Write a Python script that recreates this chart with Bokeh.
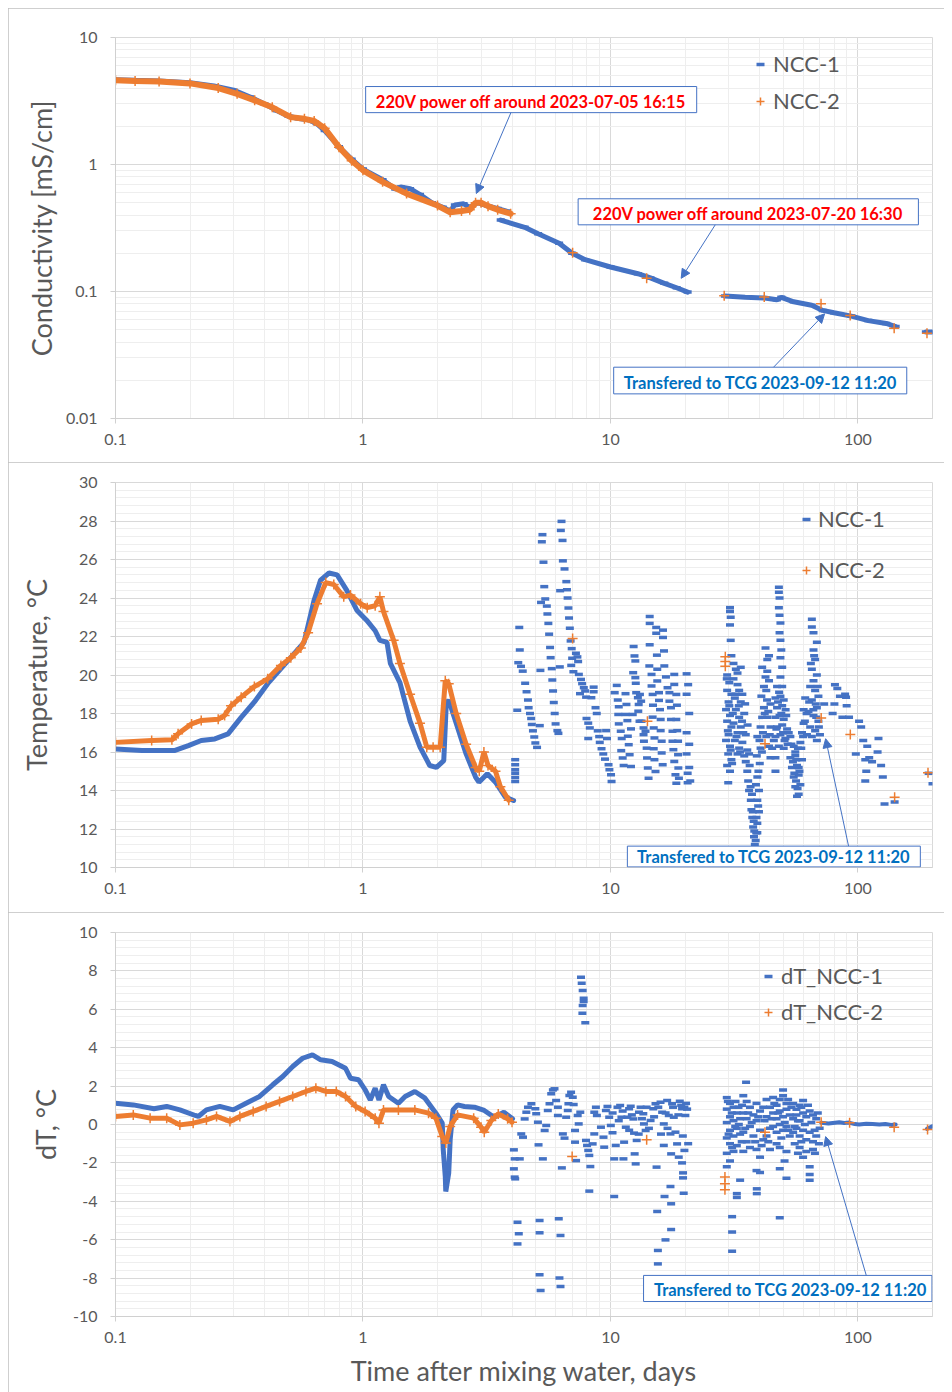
from bokeh.plotting import figure
from bokeh.layouts import column
from bokeh.models import (Arrow, BoxAnnotation, CustomJSTickFormatter, FixedTicker,
                          Label, Legend, LegendItem, NormalHead, Range1d)
from bokeh.embed import file_html
from bokeh.resources import INLINE

BLUE = "#4472c4"
ORANGE = "#ed7d31"
GREY = "#595959"
FONT = "Lato"

# ---------------- conductivity [mS/cm] vs days ----------------
cond_ncc1_segments = [
    [(0.1, 4.65), (0.12, 4.6), (0.15, 4.55), (0.2, 4.4), (0.25, 4.15), (0.3, 3.85),
     (0.35, 3.4), (0.4, 3.0), (0.45, 2.65), (0.5, 2.4), (0.55, 2.3), (0.6, 2.25),
     (0.65, 2.1), (0.7, 1.85), (0.8, 1.38), (0.9, 1.1), (1.0, 0.92), (1.2, 0.76),
     (1.35, 0.64), (1.42, 0.665), (1.55, 0.645), (1.7, 0.58), (1.9, 0.5), (2.1, 0.46),
     (2.25, 0.43), (2.35, 0.48), (2.55, 0.49), (2.7, 0.46), (2.9, 0.5), (3.1, 0.48),
     (3.5, 0.45), (3.8, 0.43)],
    [(3.6, 0.365), (4.5, 0.32), (5.1, 0.285), (6.2, 0.24), (7.0, 0.2), (7.9, 0.178),
     (10.0, 0.156), (12.9, 0.138), (14.5, 0.128), (16.5, 0.116), (18.5, 0.107), (20.5, 0.099)],
    [(29, 0.092), (35, 0.09), (42, 0.089), (47, 0.086), (49, 0.09), (55, 0.083),
     (65, 0.078), (72, 0.071), (80, 0.068), (94, 0.064), (110, 0.059), (130, 0.056), (142, 0.053)],
    [(188, 0.048), (205, 0.048)],
]
cond_ncc2_dense = [
    (0.1, 4.6), (0.12, 4.55), (0.15, 4.5), (0.2, 4.35), (0.26, 4.0), (0.31, 3.6),
    (0.365, 3.2), (0.43, 2.82), (0.51, 2.36), (0.58, 2.29), (0.635, 2.2), (0.7, 1.93),
    (0.8, 1.37), (0.9, 1.07), (1.0, 0.9), (1.2, 0.73), (1.5, 0.59), (2.0, 0.475),
    (2.25, 0.42), (2.5, 0.43), (2.7, 0.44), (2.85, 0.5), (3.0, 0.5), (3.2, 0.47),
    (3.5, 0.44), (3.95, 0.41)]
cond_ncc2_sparse = [(7.03, 0.202), (14.0, 0.127), (28.8, 0.0925), (41.8, 0.0905),
                    (70.9, 0.080), (93, 0.0647), (140, 0.0514), (190, 0.047)]

# ---------------- temperature [C] vs days ----------------
temp_ncc1_line = [
    (0.1, 16.16), (0.128, 16.08), (0.174, 16.08), (0.197, 16.33), (0.222, 16.6),
    (0.252, 16.68), (0.285, 16.94), (0.322, 17.8), (0.364, 18.6), (0.412, 19.55),
    (0.466, 20.33), (0.526, 21.1), (0.578, 21.7), (0.635, 23.9), (0.674, 24.93),
    (0.729, 25.3), (0.786, 25.2), (0.86, 24.4), (0.944, 23.37), (1.034, 22.85),
    (1.12, 22.3), (1.17, 21.8), (1.25, 21.7), (1.29, 20.6), (1.41, 19.6), (1.55, 17.6),
    (1.7, 16.25), (1.86, 15.3), (1.98, 15.2), (2.12, 15.55), (2.17, 18.5), (2.22, 18.7),
    (2.38, 17.5), (2.61, 15.9), (2.85, 14.7), (2.94, 14.43), (3.18, 14.87), (3.43, 14.43),
    (3.76, 13.65), (4.06, 13.48)]
temp_ncc2_line = [
    (0.1, 16.5), (0.14, 16.6), (0.169, 16.63), (0.179, 16.95), (0.203, 17.46),
    (0.222, 17.64), (0.26, 17.7), (0.276, 17.9), (0.293, 18.4), (0.322, 18.85),
    (0.364, 19.4), (0.412, 19.8), (0.466, 20.5), (0.511, 20.9), (0.561, 21.4), (0.6, 22.2),
    (0.652, 23.7), (0.707, 24.8), (0.762, 24.7), (0.836, 24.06), (0.89, 24.15),
    (0.978, 23.7), (1.04, 23.5), (1.12, 23.6), (1.17, 24.06), (1.21, 23.3), (1.33, 21.8),
    (1.41, 20.6), (1.55, 19.0), (1.7, 17.5), (1.81, 16.25), (1.92, 16.25), (2.05, 16.25),
    (2.15, 19.7), (2.22, 19.55), (2.38, 18.0), (2.61, 16.4), (2.85, 15.2), (2.95, 15.0),
    (3.08, 16.0), (3.2, 15.3), (3.43, 15.0), (3.59, 14.2), (3.88, 13.5)]
temp_ncc2_sparse = [(7.03, 21.9), (14.1, 17.6), (29.1, 20.95), (29.1, 20.7), (29.1, 20.45),
                    (42.1, 16.43), (71, 17.76), (93.1, 16.91), (140.6, 13.65), (191.8, 14.92)]
temp_ncc1_scatter_a = [
    (4.12, 15.6), (4.12, 15.34), (4.12, 15.08), (4.12, 14.9), (4.12, 14.68), (4.12, 14.47),
    (4.28, 22.47), (4.3, 21.3), (4.24, 20.64), (4.35, 20.45), (4.42, 20.2), (4.2, 18.17),
    (4.52, 19.57), (4.58, 19.13), (4.64, 18.7), (4.67, 18.3), (4.73, 18.0), (4.78, 17.74),
    (4.81, 17.43), (4.86, 17.1), (4.92, 16.78), (4.97, 16.47), (5.05, 16.24), (5.18, 17.37),
    (5.21, 20.24), (5.31, 27.29), (5.28, 26.92), (5.36, 25.86), (5.4, 24.59), (5.45, 23.95),
    (5.24, 23.77), (5.53, 23.58), (5.56, 23.17), (5.61, 22.68), (5.65, 22.12), (5.7, 21.43),
    (5.73, 20.9), (5.79, 20.33), (5.82, 19.74), (5.86, 19.17), (5.9, 18.57), (5.95, 18.0),
    (6.0, 17.46), (6.1, 17.11), (6.16, 16.97), (6.26, 24.38), (6.24, 20.42),
    (6.34, 27.98), (6.3, 27.51), (6.4, 26.99), (6.42, 25.93), (6.52, 25.51), (6.63, 24.85),
    (6.67, 24.43), (6.71, 24.0), (6.76, 23.48), (6.8, 22.96), (6.85, 22.43), (6.9, 21.77),
    (6.97, 21.37), (7.0, 20.87), (6.94, 20.5), (7.25, 21.13), (7.35, 20.94), (7.4, 20.7),
    (7.08, 20.17), (7.45, 20.03), (7.6, 19.77), (7.68, 19.55), (7.8, 19.34), (7.53, 19.03),
    (7.9, 19.17), (7.97, 18.85), (8.37, 18.82), (8.55, 19.37), (8.55, 19.13), (8.7, 18.3),
    (8.8, 18.0), (8.0, 17.74), (8.13, 17.5), (8.25, 17.25), (8.13, 16.7), (8.88, 17.1),
    (9.0, 16.8), (9.05, 16.5), (9.2, 16.17), (9.35, 15.9), (9.5, 15.63), (9.6, 17.11),
    (9.68, 16.7), (9.82, 15.34), (9.9, 15.08), (10.05, 14.82), (10.1, 14.47),
    (10.4, 19.08), (10.6, 19.46), (10.7, 18.7), (10.8, 18.35), (10.75, 17.95), (10.8, 17.46),
    (11.0, 17.08), (11.1, 16.7), (11.05, 16.07), (11.2, 15.69), (11.3, 15.3), (11.5, 19.03),
    (11.6, 18.47), (11.5, 17.95), (11.7, 17.63), (11.75, 16.82), (11.85, 16.38),
    (11.95, 15.86), (12.1, 15.25), (12.1, 17.2), (12.3, 17.95), (12.35, 20.12),
    (12.4, 21.48), (12.5, 20.99), (12.6, 20.73), (12.6, 19.86), (12.65, 19.57), (12.7, 19.08),
    (12.9, 18.82), (13.0, 18.47), (12.95, 18.12), (13.1, 17.6), (13.15, 18.99), (13.3, 18.64),
    (13.35, 17.6), (13.6, 17.25), (13.6, 16.9), (13.65, 16.56), (13.85, 17.08), (14.0, 16.2),
    (14.05, 15.69), (14.15, 15.17), (14.25, 14.64), (14.4, 23.04), (14.4, 22.68),
    (14.4, 21.57), (14.35, 20.47), (14.65, 20.03), (14.65, 19.43), (14.8, 18.99),
    (14.85, 18.43), (14.8, 17.81), (14.95, 17.25), (15.05, 16.73), (14.95, 16.17),
    (15.05, 15.6), (15.2, 14.99), (15.3, 22.47), (15.3, 22.17), (15.4, 21.03), (15.45, 20.3),
    (15.45, 19.69), (15.7, 19.08), (15.7, 18.68), (15.85, 18.2), (15.95, 17.69),
    (15.95, 17.11), (16.1, 16.56), (16.1, 15.95), (16.25, 15.34), (16.3, 22.33),
    (16.3, 21.95), (16.45, 21.25), (16.5, 20.47), (16.75, 19.9), (17.0, 19.34), (17.3, 19.08),
    (17.3, 18.64), (17.55, 18.3), (17.55, 17.69), (17.8, 17.08), (17.8, 16.56),
    (17.95, 16.12), (18.1, 15.51), (18.3, 14.82), (18.45, 14.38), (18.1, 20.03),
    (18.1, 19.51), (18.45, 18.99), (18.55, 18.43), (18.45, 17.69), (18.6, 17.11),
    (18.75, 16.56), (18.75, 15.86), (18.8, 15.17), (18.9, 14.64), (20.3, 20.06), (20.6, 19.5),
    (20.3, 19.0), (20.8, 18.0), (20.3, 17.0), (20.8, 16.4), (20.3, 15.9), (20.8, 15.2),
    (20.5, 14.9), (21.0, 14.5), (20.5, 14.4)]
temp_ncc1_scatter_b = [
    (29.9, 14.4), (30.4, 23.5), (30.4, 23.3), (30.6, 23.0), (30.4, 22.6), (30.6, 21.8),
    (30.8, 21.0), (29.6, 20.0), (30.2, 19.6), (29.6, 19.2), (30.8, 19.0), (30.0, 18.6),
    (29.3, 18.2), (30.4, 17.9), (29.6, 17.6), (30.8, 17.3), (30.0, 16.9), (29.3, 16.6),
    (30.4, 16.3), (29.9, 15.9), (30.8, 15.6), (29.6, 15.3), (30.4, 15.0), (31.4, 20.6),
    (32.1, 20.3), (32.6, 20.1), (33.6, 20.4), (31.4, 19.8), (32.6, 19.5), (33.1, 19.2),
    (34.1, 19.0), (31.8, 18.8), (33.6, 18.6), (32.1, 18.2), (34.7, 18.0), (33.1, 17.8),
    (31.4, 17.5), (33.6, 17.3), (32.6, 17.0), (35.2, 16.9), (31.8, 16.6), (34.1, 16.5),
    (33.1, 16.2), (35.7, 16.1), (32.6, 15.9), (34.7, 15.8), (36.3, 15.9), (35.2, 15.5),
    (35.7, 15.0), (36.0, 14.5), (36.3, 14.0), (36.9, 13.5), (37.1, 13.0), (37.4, 12.6),
    (37.7, 12.1), (38.0, 11.6), (38.3, 11.2), (38.6, 11.4), (39.2, 11.8), (39.2, 12.3),
    (39.8, 12.9), (39.2, 13.5), (39.8, 14.0), (39.2, 14.7), (40.1, 15.4), (40.4, 16.2),
    (39.2, 16.8), (40.4, 17.3), (41.0, 17.8), (41.7, 18.3), (40.7, 18.9), (41.7, 19.4),
    (42.3, 19.9), (41.0, 20.4), (43.0, 20.8), (43.7, 21.0), (42.3, 21.4), (43.0, 20.2),
    (43.7, 19.7), (42.6, 19.2), (44.3, 18.5), (43.0, 17.8), (44.3, 17.3), (42.6, 16.8),
    (43.7, 16.3), (44.3, 15.7), (46.4, 15.7), (46.4, 15.0), (47.9, 24.56), (47.9, 24.3),
    (48.2, 24.0), (47.9, 23.5), (48.2, 23.1), (48.6, 22.7), (48.2, 22.2), (48.6, 21.8),
    (49.0, 21.3), (48.6, 20.9), (49.4, 20.4), (48.6, 19.9), (47.1, 19.4), (49.4, 19.4),
    (46.4, 18.8), (48.6, 18.9), (50.1, 18.7), (47.1, 18.3), (49.4, 18.4), (51.0, 18.2),
    (46.4, 17.8), (48.2, 17.9), (50.1, 17.7), (47.1, 17.3), (49.4, 17.4), (51.7, 17.2),
    (46.4, 16.8), (48.6, 16.9), (50.9, 16.7), (47.9, 16.3), (50.1, 16.2), (45.7, 16.6),
    (53.3, 16.8), (55.0, 16.3), (53.3, 15.7), (55.8, 15.8), (54.1, 15.2), (56.7, 15.3),
    (55.0, 14.7), (57.6, 14.8), (55.8, 14.2), (58.5, 14.3), (56.7, 13.7), (57.6, 13.8),
    (55.8, 16.0), (58.5, 16.5), (59.4, 17.0), (60.3, 17.5), (60.3, 18.2), (61.2, 18.8),
    (59.4, 15.6), (57.6, 15.2), (65.1, 22.9), (65.1, 22.5), (66.1, 22.2), (68.2, 21.7),
    (66.1, 21.3), (67.1, 20.8), (65.1, 20.3), (68.2, 20.0), (66.1, 19.7), (64.1, 19.4),
    (67.1, 19.2), (69.2, 18.9), (65.1, 18.7), (68.2, 18.3), (63.1, 18.1), (66.1, 17.9),
    (69.2, 17.6), (64.1, 17.3), (67.1, 17.1), (65.1, 16.8), (68.2, 16.6), (62.2, 16.9),
    (29.5, 19.8), (30.2, 18.4), (29.8, 17.1), (30.6, 16.1), (31.0, 15.4), (31.2, 18.0),
    (32.0, 19.0), (33.0, 18.4), (34.0, 17.6), (32.3, 16.8), (33.4, 16.0), (34.4, 17.0),
    (35.0, 18.5), (35.8, 17.4), (36.5, 15.3), (36.8, 14.2), (37.3, 13.8), (37.6, 12.9),
    (37.9, 12.4), (38.1, 11.9), (38.8, 11.8), (38.9, 12.6), (39.5, 13.2), (38.7, 14.3),
    (39.6, 15.0), (39.0, 15.8), (40.0, 16.6), (40.9, 16.0), (41.3, 17.0), (42.0, 18.0),
    (42.9, 18.7), (43.4, 18.1), (44.0, 16.9), (45.0, 16.2), (46.8, 17.2), (47.5, 18.6),
    (48.0, 19.1), (49.0, 18.0), (49.8, 17.0), (50.5, 16.6), (51.3, 17.9), (52.0, 16.4),
    (52.5, 17.0), (53.8, 16.4), (54.6, 15.5), (55.3, 14.9), (56.2, 14.5), (57.0, 14.1),
    (56.3, 15.6), (57.2, 16.2), (58.0, 15.0), (59.0, 16.2), (60.0, 16.8), (61.0, 17.6),
    (62.0, 18.0), (63.5, 18.6), (64.5, 20.6), (66.5, 21.0), (67.5, 18.5), (68.8, 19.4),
    (69.5, 17.3), (70.2, 16.9), (66.0, 18.2), (67.8, 17.8),
    (73.0, 18.5), (79.0, 18.0), (80.7, 19.5), (82.5, 19.3), (80.3, 18.5), (84.5, 18.9),
    (86.5, 17.8), (88.7, 19.0), (89.5, 18.85), (90.0, 18.4), (92.0, 17.8), (98.0, 15.9),
    (101.0, 17.6), (103.0, 17.3), (105.0, 16.6), (107.0, 15.6), (107.0, 14.5), (108.0, 15.0),
    (109.0, 16.3), (111.0, 15.7), (114.0, 15.5), (120.0, 16.0), (121.0, 16.7), (124.0, 15.3),
    (126.0, 14.7), (128.0, 13.3), (140.6, 13.4), (193, 14.9), (200, 14.35)]

# ---------------- dT [C] vs days ----------------
dt_ncc1_line = [
    (0.1, 1.11), (0.118, 1.02), (0.143, 0.82), (0.161, 0.94), (0.182, 0.76), (0.21, 0.47),
    (0.216, 0.42), (0.233, 0.76), (0.264, 0.94), (0.299, 0.76), (0.337, 1.11), (0.382, 1.46),
    (0.432, 2.07), (0.474, 2.5), (0.52, 3.02), (0.57, 3.45), (0.625, 3.63), (0.675, 3.37),
    (0.75, 3.28), (0.85, 2.93), (0.89, 2.41), (0.96, 2.33), (1.02, 1.81), (1.07, 1.28),
    (1.12, 1.89), (1.16, 1.28), (1.21, 2.07), (1.27, 1.46), (1.39, 1.11), (1.48, 1.46),
    (1.62, 1.72), (1.78, 1.37), (1.97, 0.59), (2.09, 0.07), (2.11, -1.32), (2.15, -2.71),
    (2.16, -3.49), (2.22, -2.53), (2.25, -0.8), (2.31, 0.76), (2.41, 1.02), (2.57, 0.94),
    (2.82, 0.9), (3.09, 0.73), (3.39, 0.38), (3.71, 0.64), (4.02, 0.3)]
dt_ncc2_line = [
    (0.1, 0.42), (0.118, 0.5), (0.138, 0.33), (0.161, 0.33), (0.182, -0.02), (0.206, 0.07),
    (0.233, 0.24), (0.256, 0.42), (0.29, 0.16), (0.318, 0.42), (0.36, 0.68), (0.406, 0.94),
    (0.46, 1.2), (0.52, 1.46), (0.588, 1.72), (0.645, 1.89), (0.708, 1.72), (0.78, 1.72),
    (0.85, 1.46), (0.935, 0.94), (1.02, 0.68), (1.12, 0.33), (1.16, 0.07), (1.21, 0.76),
    (1.39, 0.76), (1.62, 0.76), (1.84, 0.59), (1.97, 0.33), (2.09, -0.62), (2.16, -0.97),
    (2.25, -0.1), (2.41, 0.5), (2.8, 0.33), (3.0, -0.14), (3.09, -0.4), (3.3, 0.21),
    (3.52, 0.55), (3.84, 0.3), (4.0, 0.12)]
dt_ncc2_sparse = [(7.0, -1.67), (14.0, -0.8), (29.0, -2.74), (29.0, -3.09), (29.0, -3.4),
                  (42.1, -0.4), (71, 0.12), (92.5, 0.09), (140, -0.14), (191, -0.26)]
dt_ncc1_tail = [
    [(71, 0.09), (76, 0.05), (84, 0.12), (88, 0.08), (92, 0.1), (97, 0.02), (101, 0.0),
     (108, 0.04), (114.5, 0.03), (122, 0.0), (129, 0.03), (136, -0.02), (142, 0.0)],
    [(190, -0.23), (205, -0.02)]]
dt_ncc1_scatter_a = [
    (4.07, -1.32), (4.1, -1.79), (4.07, -2.31), (4.1, -2.74), (4.12, -2.83), (4.21, -5.09),
    (4.26, -5.69), (4.21, -6.22), (4.3, -1.79), (4.36, -0.49), (4.43, -0.66), (4.5, 0.29),
    (4.57, 0.64), (4.64, 0.9), (4.79, 1.08), (4.97, 0.82), (5.01, 0.56), (5.09, 0.12),
    (5.12, -1.06), (5.17, -5.0), (5.17, -5.64), (5.17, -7.83), (5.22, -8.65), (5.33, -1.79),
    (5.42, -0.31), (5.5, -0.05), (5.58, 0.73), (5.67, 1.08), (5.76, 1.6), (5.85, 1.8),
    (5.94, 1.86), (6.03, 1.25), (6.13, 0.9), (6.13, 0.47), (6.18, -4.91), (6.28, -5.78),
    (6.22, -8.0), (6.28, -8.44), (6.36, -2.26), (6.42, -0.49), (6.52, -0.71), (6.62, 0.38),
    (6.72, 0.73), (6.76, 1.08), (6.82, 1.51), (6.93, 1.68), (7.04, 1.42), (7.1, 1.04),
    (7.19, -0.92), (7.19, -0.31), (7.26, -1.88), (7.37, 0.47), (7.44, 0.03), (7.55, 0.64),
    (7.6, 7.67), (7.65, 7.36), (7.72, 6.98), (7.79, 6.58), (7.79, 6.41), (7.72, 6.2),
    (7.7, 5.8), (7.91, 5.3), (7.96, -0.83), (8.04, -1.09), (8.13, -1.35), (8.21, -1.61),
    (8.29, -2.19), (8.21, -3.47), (8.47, -1.01), (8.6, -0.49), (8.6, 0.64), (8.73, 0.9),
    (8.81, 0.47), (9.15, -0.14), (9.37, -0.66), (9.43, -1.18), (9.58, 0.73), (9.72, 0.94),
    (9.88, 0.38), (10.03, -0.05), (10.19, -0.43), (10.35, -1.79), (10.35, -3.75),
    (10.5, -1.09), (10.67, 0.9), (10.94, 0.99), (11.07, 0.38), (11.28, -1.79), (11.35, -0.92),
    (11.53, -0.14), (11.7, 0.38), (11.89, 0.82), (12.07, 0.95), (12.37, 0.29), (12.45, -0.45),
    (12.52, -1.53), (12.64, -2.05), (12.76, -0.83), (13.03, 0.64), (13.23, 0.9), (13.57, 0.56),
    (13.65, 0.03), (13.87, -0.31), (14.52, 0.21), (14.89, 0.82), (15.2, 1.08), (15.35, -2.22),
    (15.44, -4.53), (15.54, -6.56), (15.54, -7.26), (15.93, 1.16), (16.17, 0.64),
    (16.42, 0.03), (16.42, -1.09), (16.53, -3.75), (16.68, -6.01), (16.94, 1.25),
    (17.2, 0.47), (17.47, -0.49), (17.58, -1.53), (17.47, -3.23), (17.58, -4.13),
    (17.58, -5.47), (17.74, 1.08), (18.02, 0.38), (18.58, -1.01), (18.87, -1.7), (19.05, 1.21),
    (19.46, 0.82), (19.46, -2.0), (19.64, -2.52), (19.64, -2.78), (19.76, -3.58),
    (19.89, -1.35), (20.07, 0.47), (19.89, 0.9), (10.2, 0.6), (10.8, 0.2), (11.2, 0.7),
    (11.9, -0.3), (12.2, 0.5), (13.0, -0.5), (13.4, 0.3), (14.0, 0.9), (14.3, -0.2),
    (15.0, 0.4), (15.6, 0.9), (16.0, -0.5), (16.7, 0.6), (17.0, -0.2), (17.9, 0.9),
    (18.3, -0.4), (18.8, 0.5), (19.3, 1.0), (19.6, -0.6), (20.2, 1.1), (20.4, 0.8), (20.6, -1.0)]
dt_ncc1_scatter_b = [
    (29.5, 1.4), (30.4, 1.1), (29.5, 0.8), (31.4, 0.9), (30.4, 0.4), (32.4, 0.6), (29.5, 0.1),
    (31.4, 0.2), (33.4, 0.3), (30.4, -0.3), (32.4, -0.2), (29.5, -0.7), (31.4, -0.6),
    (33.4, -0.5), (30.4, -1.0), (32.4, -1.1), (29.5, -1.5), (31.4, -1.4), (30.4, -1.9),
    (29.5, -2.2), (33.4, -2.9), (32.4, -3.8), (32.4, -3.6), (31.0, -4.8), (31.0, -5.6),
    (31.0, -6.6), (34.4, 1.5), (35.5, 1.2), (36.6, 0.9), (34.4, 0.6), (35.5, 0.3), (37.8, 0.5),
    (36.6, -0.1), (34.4, -0.4), (37.8, -0.6), (35.5, -0.9), (36.6, -1.2), (34.4, -1.4),
    (35.3, 2.2), (38.9, 1.1), (40.2, 0.7), (41.4, 0.9), (38.9, 0.2), (40.2, -0.3), (42.7, 0.4),
    (41.4, -0.8), (38.9, -1.3), (40.2, -1.7), (38.9, -2.4), (40.2, -2.5), (39.0, -3.35),
    (39.0, -3.6), (42.7, 1.3), (44.1, 0.9), (44.1, -0.2), (42.7, -0.6), (44.1, -1.3),
    (45.4, 1.4), (46.9, 1.0), (48.3, 1.3), (49.8, 1.8), (49.8, 1.5), (51.4, 1.1), (45.4, 0.6),
    (46.9, 0.3), (48.3, 0.7), (49.8, 0.4), (51.4, 0.8), (53.0, 0.5), (45.4, -0.1),
    (46.9, -0.4), (48.3, 0.0), (49.8, -0.3), (51.4, -0.1), (53.0, -0.6), (46.9, -1.0),
    (48.3, -1.2), (51.4, -1.4), (50.5, -1.9), (48.3, -2.3), (51.4, -2.8), (48.3, -4.86),
    (54.7, 1.1), (56.4, 0.8), (58.1, 1.0), (60.0, 1.25), (54.7, 0.3), (56.4, 0.5), (58.1, 0.2),
    (60.0, 0.6), (61.8, 0.4), (63.8, 0.7), (65.8, 0.5), (67.8, 0.3), (54.7, -0.4),
    (56.4, -0.2), (58.1, -0.6), (60.0, -0.3), (61.8, -0.8), (63.8, -0.4), (65.8, -0.9),
    (67.8, -0.6), (70.0, -0.2), (58.1, -1.2), (61.8, -1.4), (65.8, -1.3), (60.0, -1.7),
    (63.8, -2.2), (63.8, -2.6), (63.8, -2.9),
    (29.8, 1.2), (30.9, 0.6), (31.9, -0.1), (32.9, 0.9), (33.9, -0.9), (30.0, -0.5),
    (31.0, -1.2), (32.0, 1.2), (33.0, 0.0), (34.0, 1.0), (35.0, -0.2), (36.0, 0.6),
    (37.2, 0.1), (38.4, -0.9), (39.5, 0.4), (40.8, -1.1), (41.9, 0.2), (43.4, -0.9),
    (44.8, 0.3), (45.9, 1.1), (47.6, 0.6), (49.0, -0.7), (50.6, 0.1), (52.2, 1.3),
    (52.2, -0.3), (53.8, 0.9), (55.5, -0.1), (57.2, 0.2), (59.0, 0.9), (59.0, -0.9),
    (61.0, 0.0), (62.8, 1.0), (64.8, 0.1), (66.8, -0.3), (68.8, 0.6), (69.5, -1.0),
    (67.0, -1.5), (55.5, -1.0), (57.2, -1.5)]

# ---------------- call-out notes: (box l, r, b, t), text position, arrow start -> end ----------------
notes_cond = [
    ("220V power off around 2023-07-05 16:15", "#ff0000", (1.025, 22.3, 2.56, 4.11), (4.78, 3.13), (3.96, 2.56, 2.87, 0.591)),
    ("220V power off around 2023-07-20 16:30", "#ff0000", (7.4, 175.4, 0.335, 0.537), (36.0, 0.411), (26.5, 0.335, 19.3, 0.127)),
    ("Transfered to TCG 2023-09-12 11:20", "#0070c0", (10.3, 157.4, 0.01563, 0.02535), (40.3, 0.0189), (45.6, 0.02535, 73.3, 0.0667)),
]
notes_temp = [("Transfered to TCG 2023-09-12 11:20", "#0070c0", (11.7, 178.6, 10.03, 11.11), (45.6, 10.56), (91.6, 11.11, 74.0, 16.69))]
notes_dt = [("Transfered to TCG 2023-09-12 11:20", "#0070c0", (13.6, 199, -9.22, -7.86), (53.3, -8.6), (108, -7.86, 74.0, -0.63))]


def xs(pts):
    return [a for a, _ in pts]


def ys(pts):
    return [b for _, b in pts]


fmt_code = "return String(parseFloat(tick.toPrecision(6)))"
x_minor = [k * 10.0 ** e for e in range(-1, 3) for k in range(2, 10)]


def make_panel(height, y_type, y_rng, borders, y_ticker, y_label, y_label_standoff):
    left, right, top, bottom = borders
    p = figure(width=936, height=height, x_axis_type="log", y_axis_type=y_type,
               x_range=Range1d(0.1, 200), y_range=Range1d(*y_rng),
               output_backend="svg", toolbar_location=None, tools="",
               min_border_left=left, min_border_right=right,
               min_border_top=top, min_border_bottom=bottom)
    p.background_fill_color = "white"
    p.border_fill_color = "white"
    p.outline_line_color = "#d9d9d9"
    p.styles = {"outline": "1px solid #bfbfbf", "outline-offset": "-1px"}

    x_ticker = FixedTicker(ticks=[0.1, 1, 10, 100], minor_ticks=x_minor)
    p.xaxis.ticker = x_ticker
    p.xgrid.ticker = x_ticker
    p.yaxis.ticker = y_ticker
    p.ygrid.ticker = y_ticker
    for ax in (p.xaxis[0], p.yaxis[0]):
        ax.formatter = CustomJSTickFormatter(code=fmt_code)
        ax.axis_line_color = "#d0d0d0"
        ax.major_tick_line_color = "#d0d0d0"
        ax.major_tick_out = 5
        ax.major_tick_in = 0
        ax.minor_tick_out = 0
        ax.minor_tick_in = 0
        ax.major_label_text_font = FONT
        ax.major_label_text_font_size = "16px"
        ax.major_label_text_color = GREY
        ax.axis_label_text_font = FONT
        ax.axis_label_text_font_size = "27px"
        ax.axis_label_text_font_style = "normal"
        ax.axis_label_text_color = GREY
    p.xaxis.major_label_standoff = 10
    p.yaxis.major_label_standoff = 13
    p.yaxis.axis_label = y_label
    p.yaxis.axis_label_standoff = y_label_standoff
    p.grid.grid_line_color = "#d9d9d9"
    p.grid.minor_grid_line_color = "#eeeeee"
    return p


def add_notes(p, notes):
    for text, color, box, tpos, arr in notes:
        p.add_layout(BoxAnnotation(left=box[0], right=box[1], bottom=box[2], top=box[3],
                                   fill_color="white", fill_alpha=1.0,
                                   line_color=BLUE, line_width=1, line_alpha=1.0))
        p.add_layout(Label(x=tpos[0], y=tpos[1], text=text, text_align="center",
                           text_baseline="middle", text_font=FONT, text_font_style="bold",
                           text_font_size="16.5px", text_color=color))
        p.add_layout(Arrow(end=NormalHead(size=9, fill_color=BLUE, line_color=BLUE),
                           x_start=arr[0], y_start=arr[1], x_end=arr[2], y_end=arr[3],
                           line_color=BLUE, line_width=1))


def add_legend(p, items, loc, spacing, standoff):
    legend = Legend(items=[LegendItem(label=t, renderers=[r]) for t, r in items],
                    location=loc, padding=0, margin=0, spacing=spacing,
                    glyph_width=20, glyph_height=24, label_height=24,
                    label_standoff=standoff, label_text_font=FONT,
                    label_text_font_size="22px", label_text_color=GREY,
                    border_line_alpha=0, background_fill_alpha=0)
    p.add_layout(legend)


def blue_dash(p, pts):
    return p.scatter(xs(pts), ys(pts), marker="dash", size=8, line_width=3.5, line_color=BLUE)


def orange_cross(p, pts):
    return p.scatter(xs(pts), ys(pts), marker="cross", size=10, line_width=1.5, line_color=ORANGE)


# ---------------- panel 1: conductivity ----------------
log_y = FixedTicker(ticks=[0.01, 0.1, 1, 10],
                    minor_ticks=[k * 10.0 ** e for e in range(-2, 1) for k in range(2, 10)])
p1 = make_panel(454, "log", (0.01, 10), (102, 12, 29, 44), log_y, "Conductivity [mS/cm]", 5)
for seg in cond_ncc1_segments:
    p1.line(xs(seg), ys(seg), line_width=5, line_color=BLUE, line_cap="round")
all_c1 = [pt for seg in cond_ncc1_segments for pt in seg]
r_c1 = blue_dash(p1, all_c1)
p1.line(xs(cond_ncc2_dense), ys(cond_ncc2_dense), line_width=6, line_color=ORANGE, line_cap="round")
orange_cross(p1, cond_ncc2_dense)
r_c2 = orange_cross(p1, cond_ncc2_sparse)
add_notes(p1, notes_cond)
add_legend(p1, [("NCC-1", r_c1), ("NCC-2", r_c2)], (635, 304), 10, 3)

# ---------------- panel 2: temperature ----------------
t_ticker = FixedTicker(ticks=list(range(10, 31, 2)),
                       minor_ticks=[round(10 + 0.4 * i, 1) for i in range(51)])
p2 = make_panel(450, "linear", (10, 30), (105, 7, 20, 45), t_ticker, "Temperature, °C", 23)
p2.line(xs(temp_ncc1_line), ys(temp_ncc1_line), line_width=5, line_color=BLUE, line_cap="round")
r_t1 = blue_dash(p2, temp_ncc1_scatter_a)
blue_dash(p2, temp_ncc1_scatter_b)
p2.line(xs(temp_ncc2_line), ys(temp_ncc2_line), line_width=5, line_color=ORANGE, line_cap="round")
orange_cross(p2, temp_ncc2_line)
r_t2 = orange_cross(p2, temp_ncc2_sparse)
add_notes(p2, notes_temp)
add_legend(p2, [("NCC-1", r_t1), ("NCC-2", r_t2)], (681, 284), 24, 2)

# ---------------- panel 3: dT ----------------
d_ticker = FixedTicker(ticks=list(range(-10, 11, 2)),
                       minor_ticks=[round(-10 + 0.4 * i, 1) for i in range(51)])
p3 = make_panel(480, "linear", (-10, 10), (107, 7, 20, 76), d_ticker, "dT, °C", 8)
p3.xaxis.axis_label = "Time after mixing water, days"
p3.xaxis.axis_label_standoff = 8
p3.line(xs(dt_ncc1_line), ys(dt_ncc1_line), line_width=5, line_color=BLUE, line_cap="round")
for seg in dt_ncc1_tail:
    p3.line(xs(seg), ys(seg), line_width=4, line_color=BLUE, line_cap="round")
r_d1 = blue_dash(p3, dt_ncc1_scatter_a)
blue_dash(p3, dt_ncc1_scatter_b)
p3.line(xs(dt_ncc2_line), ys(dt_ncc2_line), line_width=5, line_color=ORANGE, line_cap="round")
orange_cross(p3, dt_ncc2_line)
r_d2 = orange_cross(p3, dt_ncc2_sparse)
add_notes(p3, notes_dt)
add_legend(p3, [("dT_NCC-1", r_d1), ("dT_NCC-2", r_d2)], (643, 291), 9, 3)

layout = column(p1, p2, p3, spacing=0, margin=(8, 0, 0, 8))
open("out.html", "w").write(file_html(layout, INLINE))
